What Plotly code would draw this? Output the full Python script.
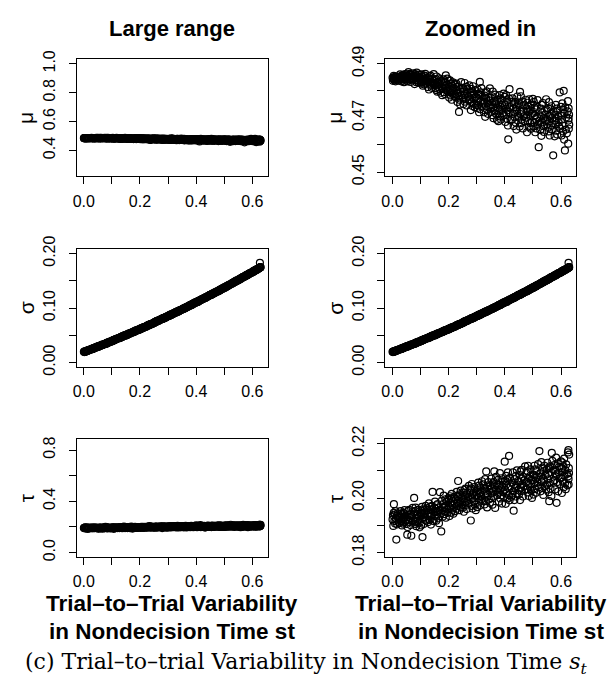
import plotly.graph_objects as go

# trial-to-trial variability in nondecision time (x) and the recovered parameters
st_values = [
    0.0004, 0.0019, 0.0031, 0.0046, 0.0052, 0.0069, 0.0083, 0.0095, 0.0110, 0.0122, 0.0138, 0.0151, 0.0167, 0.0184, 0.0206, 0.0230,
    0.0259, 0.0275, 0.0286, 0.0300, 0.0314, 0.0327, 0.0338, 0.0353, 0.0369, 0.0381, 0.0396, 0.0410, 0.0429, 0.0445, 0.0468, 0.0492,
    0.0502, 0.0514, 0.0528, 0.0541, 0.0559, 0.0571, 0.0580, 0.0597, 0.0606, 0.0625, 0.0642, 0.0656, 0.0671, 0.0690, 0.0721, 0.0737,
    0.0761, 0.0772, 0.0789, 0.0805, 0.0816, 0.0824, 0.0841, 0.0850, 0.0865, 0.0884, 0.0899, 0.0914, 0.0930, 0.0952, 0.0965, 0.0996,
    0.1004, 0.1019, 0.1031, 0.1046, 0.1052, 0.1069, 0.1083, 0.1095, 0.1110, 0.1122, 0.1138, 0.1151, 0.1167, 0.1184, 0.1206, 0.1230,
    0.1259, 0.1275, 0.1286, 0.1300, 0.1314, 0.1327, 0.1338, 0.1353, 0.1369, 0.1381, 0.1396, 0.1410, 0.1429, 0.1445, 0.1468, 0.1492,
    0.1502, 0.1514, 0.1528, 0.1541, 0.1559, 0.1571, 0.1580, 0.1597, 0.1606, 0.1625, 0.1642, 0.1656, 0.1671, 0.1690, 0.1721, 0.1737,
    0.1761, 0.1772, 0.1789, 0.1805, 0.1816, 0.1824, 0.1841, 0.1850, 0.1865, 0.1884, 0.1899, 0.1914, 0.1930, 0.1952, 0.1965, 0.1996,
    0.2004, 0.2019, 0.2031, 0.2046, 0.2052, 0.2069, 0.2083, 0.2095, 0.2110, 0.2122, 0.2138, 0.2151, 0.2167, 0.2184, 0.2206, 0.2230,
    0.2259, 0.2275, 0.2286, 0.2300, 0.2314, 0.2327, 0.2338, 0.2353, 0.2369, 0.2381, 0.2396, 0.2410, 0.2429, 0.2445, 0.2468, 0.2492,
    0.2502, 0.2514, 0.2528, 0.2541, 0.2559, 0.2571, 0.2580, 0.2597, 0.2606, 0.2625, 0.2642, 0.2656, 0.2671, 0.2690, 0.2721, 0.2737,
    0.2761, 0.2772, 0.2789, 0.2805, 0.2816, 0.2824, 0.2841, 0.2850, 0.2865, 0.2884, 0.2899, 0.2914, 0.2930, 0.2952, 0.2965, 0.2996,
    0.3004, 0.3019, 0.3031, 0.3046, 0.3052, 0.3069, 0.3083, 0.3095, 0.3110, 0.3122, 0.3138, 0.3151, 0.3167, 0.3184, 0.3206, 0.3230,
    0.3259, 0.3275, 0.3286, 0.3300, 0.3314, 0.3327, 0.3338, 0.3353, 0.3369, 0.3381, 0.3396, 0.3410, 0.3429, 0.3445, 0.3468, 0.3492,
    0.3502, 0.3514, 0.3528, 0.3541, 0.3559, 0.3571, 0.3580, 0.3597, 0.3606, 0.3625, 0.3642, 0.3656, 0.3671, 0.3690, 0.3721, 0.3737,
    0.3761, 0.3772, 0.3789, 0.3805, 0.3816, 0.3824, 0.3841, 0.3850, 0.3865, 0.3884, 0.3899, 0.3914, 0.3930, 0.3952, 0.3965, 0.3996,
    0.4004, 0.4019, 0.4031, 0.4046, 0.4052, 0.4069, 0.4083, 0.4095, 0.4110, 0.4122, 0.4138, 0.4151, 0.4167, 0.4184, 0.4206, 0.4230,
    0.4259, 0.4275, 0.4286, 0.4300, 0.4314, 0.4327, 0.4338, 0.4353, 0.4369, 0.4381, 0.4396, 0.4410, 0.4429, 0.4445, 0.4468, 0.4492,
    0.4502, 0.4514, 0.4528, 0.4541, 0.4559, 0.4571, 0.4580, 0.4597, 0.4606, 0.4625, 0.4642, 0.4656, 0.4671, 0.4690, 0.4721, 0.4737,
    0.4761, 0.4772, 0.4789, 0.4805, 0.4816, 0.4824, 0.4841, 0.4850, 0.4865, 0.4884, 0.4899, 0.4914, 0.4930, 0.4952, 0.4965, 0.4996,
    0.5004, 0.5019, 0.5031, 0.5046, 0.5052, 0.5069, 0.5083, 0.5095, 0.5110, 0.5122, 0.5138, 0.5151, 0.5167, 0.5184, 0.5206, 0.5230,
    0.5259, 0.5275, 0.5286, 0.5300, 0.5314, 0.5327, 0.5338, 0.5353, 0.5369, 0.5381, 0.5396, 0.5410, 0.5429, 0.5445, 0.5468, 0.5492,
    0.5502, 0.5514, 0.5528, 0.5541, 0.5559, 0.5571, 0.5580, 0.5597, 0.5606, 0.5625, 0.5642, 0.5656, 0.5671, 0.5690, 0.5721, 0.5737,
    0.5761, 0.5772, 0.5789, 0.5805, 0.5816, 0.5824, 0.5841, 0.5850, 0.5865, 0.5884, 0.5899, 0.5914, 0.5930, 0.5952, 0.5965, 0.5996,
    0.6004, 0.6019, 0.6031, 0.6046, 0.6052, 0.6069, 0.6083, 0.6095, 0.6110, 0.6122, 0.6138, 0.6151, 0.6167, 0.6184, 0.6206, 0.6230,
    0.6245, 0.6255, 0.6262, 0.6270, 0.6278, 0.6284, 0.6290, 0.6268,
]

mu_values = [
    0.4848, 0.4837, 0.4846, 0.4855, 0.4843, 0.4839, 0.4852, 0.4845, 0.4835, 0.4849, 0.4844, 0.4853, 0.4841, 0.4847, 0.4838, 0.4851,
    0.4842, 0.4861, 0.4846, 0.4851, 0.4835, 0.4856, 0.4848, 0.4843, 0.4858, 0.4838, 0.4853, 0.4832, 0.4850, 0.4862, 0.4845, 0.4854,
    0.4861, 0.4845, 0.4835, 0.4855, 0.4849, 0.4869, 0.4839, 0.4851, 0.4843, 0.4863, 0.4833, 0.4853, 0.4859, 0.4847, 0.4841, 0.4865,
    0.4844, 0.4855, 0.4825, 0.4862, 0.4851, 0.4839, 0.4858, 0.4832, 0.4867, 0.4846, 0.4837, 0.4853, 0.4830, 0.4860, 0.4848, 0.4834,
    0.4845, 0.4827, 0.4861, 0.4832, 0.4853, 0.4843, 0.4819, 0.4850, 0.4837, 0.4824, 0.4856, 0.4840, 0.4863, 0.4830, 0.4848, 0.4835,
    0.4814, 0.4835, 0.4847, 0.4805, 0.4853, 0.4826, 0.4841, 0.4856, 0.4820, 0.4832, 0.4811, 0.4844, 0.4829, 0.4838, 0.4862, 0.4823,
    0.4840, 0.4823, 0.4810, 0.4843, 0.4803, 0.4853, 0.4820, 0.4797, 0.4830, 0.4833, 0.4813, 0.4846, 0.4806, 0.4826, 0.4793, 0.4836,
    0.4813, 0.4784, 0.4824, 0.4806, 0.4842, 0.4795, 0.4835, 0.4817, 0.4788, 0.4831, 0.4857, 0.4809, 0.4802, 0.4845, 0.4799, 0.4838,
    0.4815, 0.4775, 0.4807, 0.4839, 0.4795, 0.4783, 0.4827, 0.4803, 0.4767, 0.4819, 0.4799, 0.4831, 0.4787, 0.4811, 0.4779, 0.4823,
    0.4776, 0.4827, 0.4789, 0.4802, 0.4759, 0.4815, 0.4793, 0.4780, 0.4722, 0.4767, 0.4806, 0.4750, 0.4797, 0.4832, 0.4784, 0.4810,
    0.4811, 0.4774, 0.4751, 0.4797, 0.4783, 0.4829, 0.4760, 0.4788, 0.4769, 0.4815, 0.4746, 0.4792, 0.4806, 0.4778, 0.4765, 0.4820,
    0.4768, 0.4793, 0.4729, 0.4807, 0.4783, 0.4758, 0.4798, 0.4744, 0.4817, 0.4773, 0.4753, 0.4788, 0.4739, 0.4802, 0.4778, 0.4748,
    0.4773, 0.4737, 0.4805, 0.4747, 0.4789, 0.4768, 0.4721, 0.4784, 0.4833, 0.4732, 0.4794, 0.4763, 0.4810, 0.4742, 0.4779, 0.4753,
    0.4721, 0.4760, 0.4782, 0.4704, 0.4793, 0.4743, 0.4771, 0.4798, 0.4732, 0.4754, 0.4715, 0.4776, 0.4748, 0.4765, 0.4809, 0.4737,
    0.4774, 0.4745, 0.4722, 0.4780, 0.4710, 0.4797, 0.4739, 0.4699, 0.4757, 0.4762, 0.4728, 0.4786, 0.4716, 0.4751, 0.4693, 0.4768,
    0.4736, 0.4688, 0.4754, 0.4724, 0.4784, 0.4706, 0.4772, 0.4742, 0.4694, 0.4766, 0.4748, 0.4730, 0.4718, 0.4790, 0.4712, 0.4778,
    0.4747, 0.4685, 0.4734, 0.4784, 0.4716, 0.4697, 0.4765, 0.4728, 0.4672, 0.4621, 0.4722, 0.4771, 0.4806, 0.4740, 0.4691, 0.4759,
    0.4695, 0.4772, 0.4715, 0.4734, 0.4670, 0.4753, 0.4721, 0.4702, 0.4759, 0.4683, 0.4740, 0.4657, 0.4727, 0.4779, 0.4708, 0.4747,
    0.4754, 0.4701, 0.4668, 0.4796, 0.4714, 0.4780, 0.4681, 0.4721, 0.4694, 0.4760, 0.4661, 0.4727, 0.4747, 0.4707, 0.4688, 0.4767,
    0.4701, 0.4735, 0.4647, 0.4756, 0.4722, 0.4688, 0.4742, 0.4667, 0.4769, 0.4708, 0.4681, 0.4728, 0.4660, 0.4749, 0.4715, 0.4770,
    0.4717, 0.4668, 0.4759, 0.4682, 0.4738, 0.4710, 0.4647, 0.4731, 0.4696, 0.4661, 0.4745, 0.4703, 0.4766, 0.4675, 0.4592, 0.4689,
    0.4655, 0.4705, 0.4734, 0.4634, 0.4748, 0.4684, 0.4719, 0.4755, 0.4670, 0.4698, 0.4648, 0.4726, 0.4691, 0.4712, 0.4769, 0.4677,
    0.4729, 0.4693, 0.4664, 0.4736, 0.4650, 0.4758, 0.4686, 0.4635, 0.4707, 0.4715, 0.4671, 0.4743, 0.4657, 0.4700, 0.4562, 0.4722,
    0.4690, 0.4632, 0.4712, 0.4675, 0.4748, 0.4653, 0.4734, 0.4697, 0.4639, 0.4727, 0.4705, 0.4683, 0.4668, 0.4794, 0.4661, 0.4741,
    0.4709, 0.4635, 0.4694, 0.4754, 0.4672, 0.4650, 0.4731, 0.4800, 0.4620, 0.4717, 0.4580, 0.4739, 0.4657, 0.4702, 0.4643, 0.4724,
    0.4762, 0.4605, 0.4690, 0.4735, 0.4660, 0.4712, 0.4675, 0.4698,
]

sigma_values = [
    0.0195, 0.0191, 0.0202, 0.0199, 0.0195, 0.0206, 0.0201, 0.0212, 0.0211, 0.0219, 0.0214, 0.0221, 0.0221, 0.0233, 0.0228, 0.0238,
    0.0238, 0.0250, 0.0246, 0.0244, 0.0254, 0.0248, 0.0260, 0.0259, 0.0268, 0.0261, 0.0269, 0.0269, 0.0281, 0.0275, 0.0285, 0.0291,
    0.0296, 0.0293, 0.0291, 0.0300, 0.0296, 0.0307, 0.0305, 0.0314, 0.0307, 0.0316, 0.0316, 0.0327, 0.0321, 0.0330, 0.0338, 0.0334,
    0.0343, 0.0340, 0.0351, 0.0346, 0.0357, 0.0355, 0.0364, 0.0357, 0.0365, 0.0366, 0.0377, 0.0371, 0.0379, 0.0385, 0.0381, 0.0396,
    0.0389, 0.0399, 0.0394, 0.0406, 0.0404, 0.0414, 0.0408, 0.0415, 0.0416, 0.0426, 0.0421, 0.0429, 0.0435, 0.0431, 0.0445, 0.0445,
    0.0451, 0.0447, 0.0458, 0.0457, 0.0466, 0.0460, 0.0468, 0.0468, 0.0480, 0.0473, 0.0482, 0.0487, 0.0484, 0.0497, 0.0496, 0.0496,
    0.0495, 0.0507, 0.0506, 0.0515, 0.0510, 0.0518, 0.0517, 0.0529, 0.0522, 0.0531, 0.0537, 0.0533, 0.0545, 0.0544, 0.0546, 0.0556,
    0.0562, 0.0561, 0.0571, 0.0565, 0.0573, 0.0572, 0.0583, 0.0577, 0.0585, 0.0591, 0.0588, 0.0600, 0.0598, 0.0597, 0.0607, 0.0606,
    0.0613, 0.0622, 0.0616, 0.0624, 0.0623, 0.0635, 0.0629, 0.0636, 0.0642, 0.0637, 0.0650, 0.0647, 0.0646, 0.0656, 0.0653, 0.0668,
    0.0678, 0.0673, 0.0680, 0.0680, 0.0691, 0.0685, 0.0693, 0.0698, 0.0695, 0.0706, 0.0704, 0.0702, 0.0713, 0.0709, 0.0723, 0.0724,
    0.0727, 0.0735, 0.0735, 0.0746, 0.0742, 0.0750, 0.0754, 0.0751, 0.0763, 0.0761, 0.0761, 0.0771, 0.0767, 0.0781, 0.0784, 0.0794,
    0.0793, 0.0793, 0.0805, 0.0800, 0.0808, 0.0812, 0.0809, 0.0820, 0.0818, 0.0818, 0.0828, 0.0824, 0.0837, 0.0839, 0.0848, 0.0847,
    0.0849, 0.0861, 0.0855, 0.0864, 0.0867, 0.0864, 0.0877, 0.0874, 0.0873, 0.0883, 0.0879, 0.0891, 0.0891, 0.0901, 0.0898, 0.0909,
    0.0920, 0.0915, 0.0923, 0.0929, 0.0925, 0.0937, 0.0934, 0.0933, 0.0944, 0.0939, 0.0952, 0.0951, 0.0962, 0.0957, 0.0968, 0.0971,
    0.0973, 0.0981, 0.0986, 0.0982, 0.0996, 0.0993, 0.0990, 0.1001, 0.0996, 0.1009, 0.1010, 0.1019, 0.1014, 0.1024, 0.1028, 0.1040,
    0.1043, 0.1048, 0.1046, 0.1059, 0.1056, 0.1053, 0.1065, 0.1060, 0.1073, 0.1074, 0.1084, 0.1079, 0.1089, 0.1092, 0.1103, 0.1103,
    0.1108, 0.1105, 0.1118, 0.1116, 0.1112, 0.1124, 0.1120, 0.1132, 0.1132, 0.1142, 0.1137, 0.1146, 0.1147, 0.1160, 0.1157, 0.1168,
    0.1168, 0.1182, 0.1179, 0.1178, 0.1189, 0.1184, 0.1196, 0.1196, 0.1207, 0.1201, 0.1210, 0.1211, 0.1224, 0.1220, 0.1231, 0.1240,
    0.1243, 0.1240, 0.1239, 0.1249, 0.1246, 0.1259, 0.1257, 0.1268, 0.1261, 0.1271, 0.1273, 0.1285, 0.1280, 0.1290, 0.1301, 0.1298,
    0.1307, 0.1305, 0.1317, 0.1313, 0.1325, 0.1323, 0.1334, 0.1328, 0.1337, 0.1339, 0.1351, 0.1346, 0.1356, 0.1364, 0.1360, 0.1378,
    0.1369, 0.1380, 0.1376, 0.1389, 0.1386, 0.1397, 0.1392, 0.1400, 0.1401, 0.1413, 0.1408, 0.1417, 0.1423, 0.1421, 0.1436, 0.1436,
    0.1448, 0.1444, 0.1457, 0.1457, 0.1467, 0.1462, 0.1470, 0.1471, 0.1484, 0.1479, 0.1488, 0.1494, 0.1493, 0.1507, 0.1507, 0.1509,
    0.1510, 0.1522, 0.1522, 0.1532, 0.1528, 0.1537, 0.1537, 0.1550, 0.1543, 0.1554, 0.1561, 0.1558, 0.1571, 0.1571, 0.1575, 0.1587,
    0.1593, 0.1592, 0.1604, 0.1599, 0.1607, 0.1607, 0.1620, 0.1614, 0.1623, 0.1631, 0.1628, 0.1641, 0.1640, 0.1642, 0.1652, 0.1654,
    0.1660, 0.1671, 0.1665, 0.1675, 0.1673, 0.1686, 0.1681, 0.1690, 0.1696, 0.1693, 0.1707, 0.1705, 0.1704, 0.1716, 0.1715, 0.1731,
    0.1735, 0.1737, 0.1741, 0.1743, 0.1745, 0.1747, 0.1750, 0.1830,
]

tau_values = [
    0.1922, 0.1937, 0.1898, 0.1946, 0.1978, 0.1916, 0.1940, 0.1907, 0.1952, 0.1925, 0.1848, 0.1934, 0.1904, 0.1943, 0.1928, 0.1910,
    0.1933, 0.1909, 0.1952, 0.1916, 0.1943, 0.1929, 0.1900, 0.1939, 0.1923, 0.1906, 0.1946, 0.1926, 0.1956, 0.1913, 0.1936, 0.1919,
    0.1905, 0.1931, 0.1866, 0.1894, 0.1953, 0.1920, 0.1938, 0.1957, 0.1912, 0.1927, 0.1901, 0.1942, 0.1862, 0.1934, 0.1964, 0.1916,
    0.1949, 0.2001, 0.1913, 0.1953, 0.1905, 0.1965, 0.1925, 0.1897, 0.1937, 0.1941, 0.1917, 0.1957, 0.1909, 0.1933, 0.1893, 0.1945,
    0.1934, 0.1900, 0.1947, 0.1926, 0.1968, 0.1857, 0.1959, 0.1938, 0.1905, 0.1955, 0.1942, 0.1930, 0.1921, 0.1972, 0.1917, 0.1963,
    0.1955, 0.1912, 0.1946, 0.1981, 0.1933, 0.1920, 0.1968, 0.1942, 0.1903, 0.1959, 0.1938, 0.1972, 0.2023, 0.1951, 0.1916, 0.1964,
    0.1934, 0.1987, 0.1948, 0.1961, 0.1917, 0.1974, 0.1952, 0.1939, 0.1978, 0.1926, 0.1965, 0.1908, 0.1956, 0.2022, 0.1943, 0.1878,
    0.1991, 0.1955, 0.1932, 0.1978, 0.1964, 0.2009, 0.1941, 0.1969, 0.1950, 0.1996, 0.1928, 0.1973, 0.1987, 0.1959, 0.1946, 0.2000,
    0.1970, 0.1993, 0.1934, 0.2007, 0.1984, 0.1961, 0.1998, 0.1947, 0.2016, 0.1975, 0.1957, 0.1989, 0.1943, 0.2003, 0.1980, 0.1952,
    0.1995, 0.1961, 0.2023, 0.1971, 0.2009, 0.1990, 0.2063, 0.2004, 0.1980, 0.1956, 0.2014, 0.1985, 0.2028, 0.1966, 0.1999, 0.1975,
    0.1965, 0.2000, 0.2020, 0.1950, 0.2030, 0.1985, 0.2010, 0.2035, 0.1975, 0.1995, 0.1960, 0.2015, 0.1990, 0.2005, 0.2045, 0.1980,
    0.2031, 0.2004, 0.1918, 0.2036, 0.1972, 0.2052, 0.1999, 0.1962, 0.2015, 0.2020, 0.1988, 0.2041, 0.1977, 0.2009, 0.1956, 0.2025,
    0.2012, 0.1967, 0.2029, 0.2001, 0.2057, 0.1984, 0.2046, 0.2018, 0.1973, 0.2040, 0.2023, 0.2006, 0.1995, 0.2062, 0.1990, 0.2051,
    0.2035, 0.1977, 0.2024, 0.2070, 0.2006, 0.1989, 0.2098, 0.2018, 0.1966, 0.2041, 0.2012, 0.2059, 0.1995, 0.2030, 0.1983, 0.2047,
    0.2000, 0.2072, 0.2018, 0.2036, 0.1976, 0.2054, 0.2024, 0.2006, 0.2060, 0.2098, 0.2042, 0.1964, 0.2030, 0.2078, 0.2012, 0.2048,
    0.2067, 0.2018, 0.1987, 0.2049, 0.2030, 0.2092, 0.1999, 0.2036, 0.2011, 0.2073, 0.1980, 0.2042, 0.2061, 0.2024, 0.2005, 0.2134,
    0.2031, 0.2063, 0.1979, 0.2082, 0.2050, 0.2018, 0.2069, 0.1999, 0.2095, 0.2037, 0.2011, 0.2155, 0.1992, 0.2075, 0.2043, 0.2005,
    0.2057, 0.2012, 0.2095, 0.2025, 0.1954, 0.2050, 0.1993, 0.2070, 0.2038, 0.2006, 0.2082, 0.2044, 0.2102, 0.2018, 0.2063, 0.2031,
    0.2013, 0.2059, 0.2085, 0.1993, 0.2098, 0.2039, 0.2072, 0.2104, 0.2026, 0.2052, 0.2006, 0.2078, 0.2045, 0.2065, 0.2117, 0.2032,
    0.2093, 0.2060, 0.2034, 0.2099, 0.2021, 0.2119, 0.2053, 0.2008, 0.2073, 0.2080, 0.2040, 0.2106, 0.2027, 0.2067, 0.2001, 0.2086,
    0.2066, 0.2013, 0.2086, 0.2053, 0.2119, 0.2033, 0.2106, 0.2073, 0.2020, 0.2099, 0.2079, 0.2059, 0.2046, 0.2125, 0.2040, 0.2173,
    0.2092, 0.2025, 0.2079, 0.2132, 0.2059, 0.2038, 0.2112, 0.2072, 0.2012, 0.2099, 0.2065, 0.2119, 0.2045, 0.2085, 0.2032, 0.2106,
    0.2049, 0.2130, 0.2069, 0.2090, 0.2022, 0.2110, 0.1989, 0.2056, 0.2117, 0.2035, 0.2096, 0.2008, 0.2166, 0.2137, 0.2062, 0.2103,
    0.2121, 0.2066, 0.2032, 0.2101, 0.2080, 0.2149, 0.1983, 0.2087, 0.2059, 0.2128, 0.2025, 0.2094, 0.2115, 0.2073, 0.2052, 0.2135,
    0.2075, 0.2110, 0.2019, 0.2131, 0.2096, 0.2061, 0.2117, 0.2040, 0.2145, 0.2082, 0.2054, 0.2103, 0.2033, 0.2124, 0.2089, 0.2047,
    0.2168, 0.2080, 0.2176, 0.2050, 0.2110, 0.2092, 0.2160, 0.2070,
]

x_major = [0.0, 0.2, 0.4, 0.6]
x_minor = [0.1, 0.3, 0.5]

col_titles = ["Large range", "Zoomed in"]
row_labels = ["μ", "σ", "τ"]
x_title_lines = ["Trial–to–Trial Variability", "in Nondecision Time st"]
caption = "(c) Trial–to–trial Variability in Nondecision Time <i>s</i><sub><i>t</i></sub>"

# (values, y range, labelled ticks, tick labels, unlabelled ticks), row by row
panels = [
    (mu_values, [0.22, 1.03], [0.4, 0.6, 0.8, 1.0], ["0.4", "0.6", "0.8", "1.0"], []),
    (mu_values, [0.4484, 0.4916], [0.45, 0.47, 0.49], ["0.45", "0.47", "0.49"], [0.46, 0.48]),
    (sigma_values, [-0.008, 0.208], [0.0, 0.10, 0.20], ["0.00", "0.10", "0.20"], [0.05, 0.15]),
    (sigma_values, [-0.008, 0.208], [0.0, 0.10, 0.20], ["0.00", "0.10", "0.20"], [0.05, 0.15]),
    (tau_values, [-0.034, 0.884], [0.0, 0.4, 0.8], ["0.0", "0.4", "0.8"], [0.2, 0.6]),
    (tau_values, [0.1784, 0.2216], [0.18, 0.20, 0.22], ["0.18", "0.20", "0.22"], [0.19, 0.21]),
]

W, H = 608, 690
col_px = [(73.3, 265.3), (384.0, 576.0)]
row_px = [(47.0, 168.0), (243.3, 365.0), (440.0, 561.7)]

FONT = "Liberation Sans"
TICKLEN = 7

fig = go.Figure()
layout = dict(
    width=W, height=H,
    margin=dict(l=0, r=0, t=0, b=0),
    paper_bgcolor="white", plot_bgcolor="white",
    showlegend=False,
    font=dict(family=FONT, color="black"),
)

for i, (yvals, yrange, ytv, ytt, yminor) in enumerate(panels):
    r, c = divmod(i, 2)
    n = i + 1
    xa = "x" if n == 1 else f"x{n}"
    ya = "y" if n == 1 else f"y{n}"
    fig.add_trace(go.Scatter(
        x=st_values, y=yvals, mode="markers", xaxis=xa, yaxis=ya,
        marker=dict(symbol="circle-open", size=7, color="black",
                    line=dict(width=1.2, color="black")),
        hoverinfo="skip",
    ))
    x0, x1 = col_px[c]
    y0, y1 = row_px[r]
    common = dict(
        showgrid=False, zeroline=False, showline=True, mirror=True,
        linecolor="black", linewidth=1, ticks="outside", ticklen=TICKLEN,
        tickwidth=1, tickcolor="black",
        tickfont=dict(family=FONT, size=16, color="black"),
    )
    layout["xaxis" if n == 1 else f"xaxis{n}"] = dict(
        common, domain=[x0 / W, x1 / W], range=[-0.0248, 0.654],
        tickmode="array", tickvals=x_major, ticktext=["0.0", "0.2", "0.4", "0.6"],
        minor=dict(tickmode="array", tickvals=x_minor, ticks="outside",
                   ticklen=TICKLEN, tickwidth=1, tickcolor="black", showgrid=False),
        anchor=ya, ticklabelstandoff=3,
    )
    layout["yaxis" if n == 1 else f"yaxis{n}"] = dict(
        common, domain=[1 - y1 / H, 1 - y0 / H], range=yrange,
        tickmode="array", tickvals=ytv, ticktext=ytt,
        minor=dict(tickmode="array", tickvals=yminor, ticks="outside",
                   ticklen=TICKLEN, tickwidth=1, tickcolor="black", showgrid=False),
        anchor=xa, tickangle=-90, ticklabelstandoff=7,
    )

annotations = []
for c, title in enumerate(col_titles):
    xc = sum(col_px[c]) / 2 / W
    annotations.append(dict(
        text=f"<b>{title}</b>", x=xc, y=1 - 15 / H, xref="paper", yref="paper",
        showarrow=False, font=dict(family=FONT, size=22, color="black"),
        xanchor="center", yanchor="middle",
    ))
    for k, line in enumerate(x_title_lines):
        annotations.append(dict(
            text=f"<b>{line}</b>", x=xc, y=1 - (610 + 29 * k) / H,
            xref="paper", yref="paper", showarrow=False,
            font=dict(family=FONT, size=22.5, color="black"),
            xanchor="center", yanchor="middle", borderpad=0,
        ))
    for r, lab in enumerate(row_labels):
        annotations.append(dict(
            text=lab, x=(col_px[c][0] - 51) / W, y=1 - sum(row_px[r]) / 2 / H,
            xref="paper", yref="paper", showarrow=False, textangle=-90,
            font=dict(family=FONT, size=21, color="black"),
            xanchor="center", yanchor="middle",
        ))

annotations.append(dict(
    text=caption, x=0.5, y=1 - 672 / H, xref="paper", yref="paper",
    showarrow=False, font=dict(family="DejaVu Serif", size=22, color="black"),
    xanchor="center", yanchor="middle",
))

layout["annotations"] = annotations
fig.update_layout(**layout)
# the page body keeps its default 8px margin otherwise
fig.write_html(
    "out.html",
    config={"displayModeBar": False},
    post_script="document.body.style.margin = '0';",
)
